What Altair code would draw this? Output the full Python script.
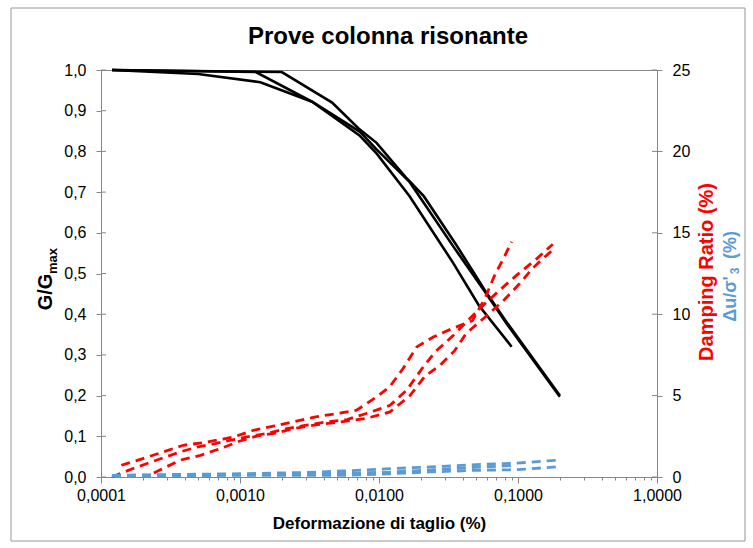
import altair as alt
import pandas as pd

# ---------------- data ----------------
# G/Gmax curves (black, left axis)
g1_strain = [0.00012, 0.0005, 0.0014, 0.0033, 0.0072, 0.0096, 0.0166, 0.0343, 0.0522, 0.09]
g1_value = [1.0, 0.99, 0.97, 0.922, 0.84, 0.795, 0.69, 0.525, 0.422, 0.32]
g2_strain = [0.00012, 0.0013, 0.0033, 0.0073, 0.0096, 0.0166, 0.0343, 0.059, 0.0827, 0.2]
g2_value = [1.0, 0.995, 0.922, 0.848, 0.805, 0.725, 0.566, 0.451, 0.377, 0.197]
g3_strain = [0.00012, 0.002, 0.0046, 0.0071, 0.0096, 0.0158, 0.021, 0.036, 0.06, 0.085, 0.2]
g3_value = [1.0, 0.995, 0.92, 0.857, 0.821, 0.734, 0.69, 0.57, 0.45, 0.375, 0.2]

# Damping ratio curves (red, right axis, %)
d1_strain = [0.00014, 0.0002, 0.00028, 0.00039, 0.00055, 0.0009, 0.00125, 0.00174, 0.0024,
             0.0035, 0.005, 0.0069, 0.0096, 0.0119, 0.0149, 0.0187, 0.0246, 0.0337, 0.047,
             0.058, 0.0672, 0.0805, 0.09]
d1_value = [0.72, 1.13, 1.54, 1.95, 2.11, 2.46, 2.87, 3.13, 3.38, 3.69, 3.9, 4.1, 4.92, 5.53,
            6.66, 7.99, 8.6, 9.12, 9.6, 11.0, 12.3, 13.6, 14.45]
d2_strain = [0.00012, 0.00017, 0.00025, 0.00037, 0.00049, 0.00066, 0.0009, 0.00112, 0.00155,
             0.00217, 0.003, 0.0042, 0.0059, 0.0081, 0.012, 0.0158, 0.0208, 0.0253, 0.0343,
             0.045, 0.058, 0.0743, 0.098, 0.136, 0.178]
d2_value = [0.0, 0.52, 1.03, 1.54, 1.84, 2.05, 2.3, 2.46, 2.67, 2.97, 3.18, 3.38, 3.53, 3.9,
            4.4, 5.33, 6.76, 7.68, 8.7, 9.74, 10.66, 11.5, 12.4, 13.4, 14.3]
d3_strain = [0.00024, 0.00037, 0.00052, 0.00072, 0.001, 0.0013, 0.0018, 0.0025, 0.0035, 0.005,
             0.0081, 0.012, 0.0167, 0.0214, 0.0275, 0.0348, 0.0423, 0.062, 0.08, 0.102, 0.129,
             0.18]
d3_value = [0.25, 1.03, 1.33, 1.74, 2.21, 2.5, 2.7, 3.0, 3.2, 3.35, 3.6, 4.0, 5.0, 6.19, 6.87,
            7.73, 8.81, 10.04, 10.9, 11.85, 12.87, 14.0]

# Pore pressure curves (blue, right axis, %)
u1_strain = [0.00012, 0.0003, 0.001, 0.003, 0.0055, 0.012, 0.0233, 0.05, 0.098, 0.19]
u1_value = [0.1, 0.15, 0.2, 0.28, 0.37, 0.51, 0.62, 0.76, 0.85, 1.03]
u2_strain = [0.00012, 0.0003, 0.001, 0.003, 0.0055, 0.012, 0.0233, 0.05, 0.098, 0.19]
u2_value = [0.05, 0.08, 0.1, 0.1, 0.1, 0.2, 0.31, 0.41, 0.45, 0.62]
u3_strain = [0.00012, 0.0005, 0.002, 0.005, 0.012, 0.025, 0.05, 0.09]
u3_value = [0.1, 0.12, 0.15, 0.22, 0.3, 0.45, 0.6, 0.7]

left_ticks = [0.0, 0.1, 0.2, 0.3, 0.4, 0.5, 0.6, 0.7, 0.8, 0.9, 1.0]
right_ticks = [0, 5, 10, 15, 20, 25]
x_ticks = [m * 10.0 ** k for k in range(-4, 0) for m in range(1, 10)] + [1.0]

# ---------------- tables ----------------
def table(name, kind, xs, ys):
    return pd.DataFrame({"series": name, "kind": kind, "strain": xs, "value": ys})

g_df = pd.concat([table("G1", "G", g1_strain, g1_value),
                  table("G2", "G", g2_strain, g2_value),
                  table("G3", "G", g3_strain, g3_value)])
r_df = pd.concat([table("D1", "D", d1_strain, d1_value),
                  table("D2", "D", d2_strain, d2_value),
                  table("D3", "D", d3_strain, d3_value),
                  table("U1", "U", u1_strain, u1_value),
                  table("U2", "U", u2_strain, u2_value),
                  table("U3", "U", u3_strain, u3_value)])
lt_df = pd.DataFrame({"t": left_ticks})
rt_df = pd.DataFrame({"t": right_ticks})

FONT = "Liberation Sans"
AX = "#868686"
major_test = "abs(log(datum.value)/LN10 - round(log(datum.value)/LN10)) < 0.001"

xscale = alt.Scale(type="log", domain=[0.0001, 1], nice=False)
xaxis = alt.Axis(values=x_ticks, labelExpr=major_test + " ? replace(format(datum.value, '.4f'), '.', ',') : ''",
                 tickSize={"condition": {"test": major_test, "value": 6}, "value": 3},
                 labelOverlap=False, labelFlush=False, labelFontSize=16, labelPadding=4,
                 labelColor="#000",
                 title="Deformazione di taglio (%)", titleFontSize=17, titleFontWeight="bold",
                 titleY=46, titleBaseline="middle", titleColor="#000",
                 grid=False, domainColor=AX, tickColor=AX)

lscale = alt.Scale(domain=[0, 1], nice=False, zero=True)
laxis = alt.Axis(values=left_ticks, labelExpr="replace(format(datum.value, '.1f'), '.', ',')",
                 tickSize=5, labelPadding=10, labelFontSize=16, labelColor="#000",
                 labelFlush=False, title=None, grid=False, domainColor=AX, tickColor=AX)
rscale = alt.Scale(domain=[0, 25], nice=False, zero=True)
raxis = alt.Axis(values=right_ticks, orient="right", tickSize=5, labelPadding=10,
                 labelFontSize=16, labelColor="#000", labelFlush=False, title=None, grid=False,
                 domainColor=AX, tickColor=AX)

black = alt.Chart(g_df).mark_line(color="#000000", strokeWidth=2.6, clip=False).encode(
    x=alt.X("strain:Q", scale=xscale, axis=xaxis),
    y=alt.Y("value:Q", scale=lscale, axis=laxis),
    detail="series:N",
    order="strain:Q",
)
lticks_in = alt.Chart(lt_df).mark_rule(color=AX).encode(
    x=alt.value(0), x2=alt.value(5), y=alt.Y("t:Q", scale=lscale, axis=laxis))

colored = alt.Chart(r_df).mark_line(strokeWidth=2.8, strokeDash=[9, 6], clip=False).encode(
    x=alt.X("strain:Q", scale=xscale, axis=xaxis),
    y=alt.Y("value:Q", scale=rscale, axis=raxis),
    color=alt.Color("kind:N", scale=alt.Scale(domain=["D", "U"], range=["#FF0000", "#5B9BD5"]), legend=None),
    detail="series:N",
    order="strain:Q",
)
rticks_in = alt.Chart(rt_df).mark_rule(color=AX).encode(
    x=alt.value(551), x2=alt.value(556), y=alt.Y("t:Q", scale=rscale, axis=raxis))

one = pd.DataFrame({"a": [0]})
border = alt.Chart(one).mark_rect(fill=None, stroke="#969696", strokeWidth=1).encode(
    x=alt.value(-90), x2=alt.value(644), y=alt.value(-62), y2=alt.value(471))

def txt(text, x, y, size, color="#000", weight="bold", angle=0):
    return alt.Chart(one).mark_text(text=text, font=FONT, fontSize=size, fontWeight=weight,
                                    color=color, angle=angle, align="center",
                                    baseline="middle").encode(x=alt.value(x), y=alt.value(y))

title = txt("Prove colonna risonante", 287, -33, 24)
gt1 = txt("G/G", -55, 222, 20, angle=270)
gt2 = txt("max", -48, 191, 13, angle=270)
red_t = txt("Damping Ratio (%)", 606, 202, 20, color="#FF0000", angle=270)
blue_t1 = txt("\u0394u/\u03c3'", 630, 229, 18, color="#5B9BD5", angle=270)
blue_t2 = txt("3", 634, 201, 12, color="#5B9BD5", angle=270)
blue_t3 = txt("(%)", 630, 175, 18, color="#5B9BD5", angle=270)

chart = alt.layer(
    alt.layer(border, black, lticks_in),
    alt.layer(colored, rticks_in),
    title, gt1, gt2, red_t, blue_t1, blue_t2, blue_t3,
).resolve_scale(y="independent").properties(
    width=556, height=407,
    padding={"left": 101, "top": 70, "right": 96, "bottom": 71},
    autosize=alt.AutoSizeParams(type="none"),
    background="#FFFFFF",
).configure_view(stroke=AX).configure_axis(labelFont=FONT, titleFont=FONT)

chart.save("out.html", embed_options={"renderer": "svg", "actions": False})
